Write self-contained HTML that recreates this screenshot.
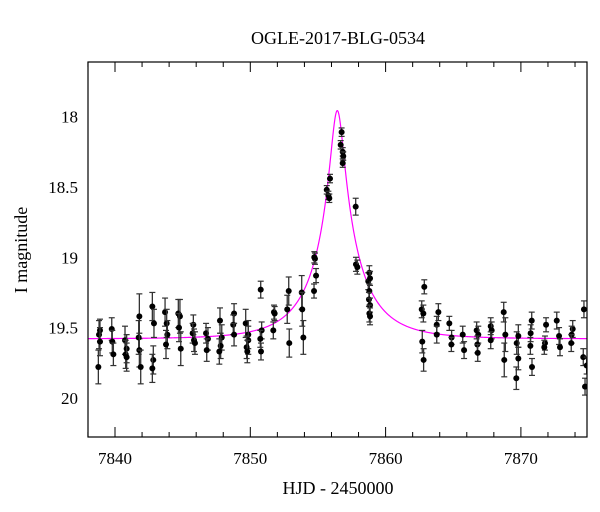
<!DOCTYPE html>
<html><head><meta charset="utf-8"><style>
body{margin:0;background:#fff;}
svg{display:block;font-family:"Liberation Serif",serif;}
</style></head><body>
<svg id="chart" width="600" height="512" viewBox="0 0 600 512" xmlns="http://www.w3.org/2000/svg">
<defs><clipPath id="clip"><rect x="88" y="62" width="499" height="375"/></clipPath></defs>
<rect width="600" height="512" fill="#fff"/>
<text x="338" y="44" font-size="18" text-anchor="middle">OGLE-2017-BLG-0534</text>
<text x="338" y="494" font-size="18" text-anchor="middle">HJD - 2450000</text>
<text transform="translate(27,250) rotate(-90)" font-size="18" text-anchor="middle">I magnitude</text>
<g id="ticks"></g>
<g id="curve" clip-path="url(#clip)"></g>
<g id="pts" clip-path="url(#clip)"></g>
<rect x="88" y="62" width="499" height="375" fill="none" stroke="#000" stroke-width="1.2"/>
</svg>
<script>
const xTicks=[7840,7850,7860,7870];
const yTicks=[18,18.5,19,19.5,20];
const times=[7838.77,7838.82,7838.89,7838.89,7839.76,7839.80,7839.88,7840.74,7840.79,7840.86,7840.86,7841.80,7841.75,7841.80,7841.90,7842.76,7842.88,7842.83,7842.76,7843.70,7843.82,7843.87,7843.77,7844.68,7844.80,7844.73,7844.86,7845.79,7845.74,7845.84,7845.91,7846.73,7846.87,7846.78,7847.76,7847.89,7847.81,7847.71,7848.80,7848.74,7848.80,7849.66,7849.85,7849.85,7849.73,7849.78,7850.77,7850.84,7850.74,7850.79,7851.75,7851.80,7851.70,7852.73,7852.84,7852.88,7853.80,7853.84,7853.92,7854.71,7854.86,7854.78,7854.73,7855.65,7855.77,7855.84,7855.89,7856.68,7856.75,7856.83,7856.87,7856.83,7857.79,7857.81,7857.91,7858.72,7858.80,7858.85,7858.80,7858.77,7858.85,7858.80,7858.85,7862.86,7862.67,7862.79,7862.71,7862.81,7863.90,7863.78,7863.78,7864.71,7864.88,7864.86,7865.70,7865.80,7866.73,7866.85,7866.78,7866.81,7867.77,7867.84,7867.77,7868.73,7868.85,7868.77,7869.69,7869.81,7869.81,7869.66,7870.80,7870.72,7870.70,7870.82,7871.86,7871.78,7871.73,7872.65,7872.82,7872.89,7873.83,7873.75,7873.72,7874.66,7874.61,7874.86,7874.74];
const mags=[19.78,19.55,19.52,19.60,19.51,19.60,19.69,19.59,19.69,19.65,19.71,19.42,19.57,19.66,19.78,19.35,19.47,19.73,19.79,19.39,19.47,19.55,19.62,19.40,19.42,19.50,19.65,19.48,19.54,19.59,19.61,19.54,19.58,19.66,19.45,19.57,19.63,19.67,19.40,19.48,19.55,19.47,19.55,19.59,19.64,19.67,19.23,19.52,19.58,19.67,19.39,19.40,19.52,19.37,19.24,19.61,19.25,19.37,19.57,19.24,19.13,19.01,19.00,18.52,18.56,18.58,18.44,18.20,18.11,18.25,18.28,18.33,18.64,19.05,19.07,19.17,19.11,19.15,19.24,19.30,19.34,19.40,19.42,19.21,19.37,19.40,19.60,19.73,19.39,19.48,19.55,19.47,19.57,19.62,19.55,19.66,19.52,19.55,19.62,19.68,19.49,19.52,19.59,19.39,19.55,19.73,19.61,19.56,19.72,19.86,19.45,19.54,19.63,19.78,19.48,19.61,19.64,19.45,19.56,19.64,19.51,19.55,19.61,19.37,19.71,19.77,19.92];
const errs=[0.12,0.1,0.08,0.1,0.08,0.08,0.08,0.1,0.1,0.1,0.1,0.16,0.12,0.12,0.12,0.1,0.1,0.1,0.1,0.1,0.1,0.1,0.1,0.1,0.12,0.1,0.12,0.07,0.07,0.08,0.08,0.07,0.08,0.08,0.09,0.09,0.09,0.09,0.07,0.07,0.08,0.1,0.1,0.1,0.08,0.08,0.06,0.06,0.06,0.06,0.05,0.05,0.06,0.1,0.1,0.1,0.12,0.12,0.12,0.05,0.05,0.04,0.04,0.03,0.03,0.03,0.03,0.03,0.03,0.03,0.03,0.03,0.06,0.05,0.05,0.06,0.05,0.05,0.05,0.05,0.05,0.06,0.06,0.05,0.06,0.06,0.08,0.08,0.06,0.06,0.06,0.05,0.05,0.05,0.06,0.06,0.06,0.06,0.06,0.06,0.06,0.06,0.06,0.07,0.12,0.12,0.08,0.08,0.08,0.08,0.06,0.06,0.06,0.06,0.05,0.05,0.05,0.06,0.06,0.06,0.06,0.06,0.06,0.06,0.06,0.06,0.06];
const modelT0=[7856.43], modelTE=[3.8], modelU0=[0.127], modelBase=[19.58], modelFs=[0.5];

const X=t=>115+(t-7840)*13.53;
const Y=m=>116.7+(m-18)*140.6;
const NS='http://www.w3.org/2000/svg';
function mk(tag,attrs,parent){const e=document.createElementNS(NS,tag);for(const k in attrs)e.setAttribute(k,attrs[k]);parent.appendChild(e);return e;}
const tg=document.getElementById('ticks');
for(let t=7838;t<=7875;t+=2){
  const maj=(t%10===0), L=maj?10:5;
  const l1=mk('line',{x1:X(t),x2:X(t),y1:437,y2:437-L,stroke:'#000','stroke-width':1},tg);
  
  
  const l2=mk('line',{x1:X(t),x2:X(t),y1:62,y2:62+L,stroke:'#000','stroke-width':1},tg);
  
  
}
xTicks.forEach(t=>{const e=mk('text',{x:X(t),y:464,'font-size':17,'text-anchor':'middle'},tg);e.textContent=t;
  
  });
for(let i=17;i<=40;i++){const m=i/10;if(m<17.62||m>20.27)continue;
  const maj=(i%5===0), L=maj?20:10;
  const l1=mk('line',{x1:88,x2:88+L,y1:Y(m),y2:Y(m),stroke:'#000','stroke-width':1},tg);
  
  
  const l2=mk('line',{x1:587,x2:587-L,y1:Y(m),y2:Y(m),stroke:'#000','stroke-width':1},tg);
  
  
}
yTicks.forEach(m=>{const e=mk('text',{x:78,y:Y(m)+6,'font-size':17,'text-anchor':'end'},tg);e.textContent=String(m);
  
  });
let d='';
for(let t=7837;t<=7876;t+=0.02){const u=Math.sqrt(modelU0[0]**2+((t-modelT0[0])/modelTE[0])**2);
  const A=(u*u+2)/(u*Math.sqrt(u*u+4));const f=modelFs[0]*A+1-modelFs[0];const m=modelBase[0]-2.5*Math.log10(f);
  d+=(d?'L':'M')+X(t).toFixed(2)+','+Y(m).toFixed(2);}
const c=mk('path',{d:d,fill:'none',stroke:'#ff00ff','stroke-width':1.2},document.getElementById('curve'));


const pg=document.getElementById('pts');
times.forEach((t,i)=>{const x=X(t),y=Y(mags[i]),e=errs[i]*140.6;
  const g=mk('g',{},pg);
  
  
  mk('line',{x1:x,x2:x,y1:y-e,y2:y+e,stroke:'#333','stroke-width':1.3},g);
  mk('line',{x1:x-3,x2:x+3,y1:y-e,y2:y-e,stroke:'#333','stroke-width':1.2},g);
  mk('line',{x1:x-3,x2:x+3,y1:y+e,y2:y+e,stroke:'#333','stroke-width':1.2},g);
  mk('circle',{cx:x,cy:y,r:3,fill:'#000'},g);
});
</script>
</body></html>
